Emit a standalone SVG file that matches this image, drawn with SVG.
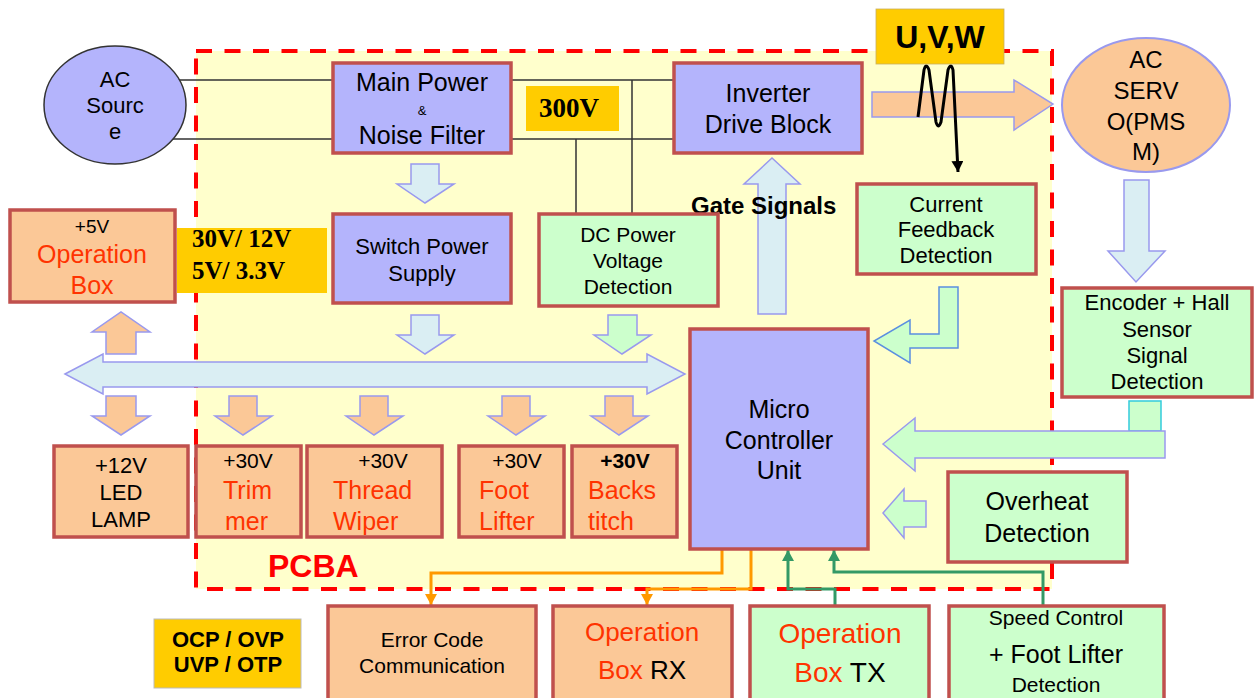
<svg xmlns="http://www.w3.org/2000/svg" width="1256" height="698" viewBox="0 0 1256 698">
<style>
text{font-family:"Liberation Sans",Arial,sans-serif;fill:#000;font-size:22px}
.c{text-anchor:middle}
.red{fill:#FF3300}
.box{stroke:#C0504D;stroke-width:3.5}
.pur{fill:#B4B4FC}
.grn{fill:#CCFFCC}
.pch{fill:#FBC897}
.gold{fill:#FFCC00}
.serif{font-family:"Liberation Serif","Times New Roman",serif;font-weight:bold}
.b{font-weight:bold}
.ba{stroke:#9999EE;stroke-width:1.5}
.lb{fill:#DAEEF3}
.wire{stroke:#333;stroke-width:1.5;fill:none}
.org{stroke:#FF9900;stroke-width:3;fill:none}
.gl{stroke:#339966;stroke-width:3;fill:none}
</style>
<defs>
<marker id="ao" markerUnits="userSpaceOnUse" markerWidth="12" markerHeight="12" refX="11" refY="6" orient="auto"><path d="M0,0 L11,6 L0,12 Z" fill="#FF9900"/></marker>
<marker id="ag" markerUnits="userSpaceOnUse" markerWidth="12" markerHeight="12" refX="11" refY="6" orient="auto"><path d="M0,0 L11,6 L0,12 Z" fill="#339966"/></marker>
<marker id="ak" markerUnits="userSpaceOnUse" markerWidth="12" markerHeight="12" refX="11" refY="6" orient="auto"><path d="M0,0 L11,6 L0,12 Z" fill="#000"/></marker>
</defs>
<rect width="1256" height="698" fill="#fff"/>
<g id="pcba">
<rect x="196" y="51" width="856" height="538" fill="#FFFFCC" stroke="#FF0000" stroke-width="4" stroke-dasharray="16 12.5"/>
<text x="268" y="577" class="b" style="font-size:32px;fill:#FF0000">PCBA</text>
</g>
<g id="connectors">
<path class="wire" d="M150,80 H333 M150,139 H333 M511,80 H674 M511,139 H674 M576,139 V214 M632,80 V214"/>
<polygon class="lb ba" points="411,164 439,164 439,184 454,184 425,203 397,184 411,184"/>
<polygon class="lb ba" points="411,315 439,315 439,335 454,335 425,354 397,335 411,335"/>
<polygon class="grn ba" points="608,315 637,315 637,335 651,335 622,354 594,335 608,335"/>
<polygon class="lb ba" points="65,374 103,354 103,362 647,362 647,354 685,374 647,394 647,387 103,387 103,394"/>
<polygon class="pch ba" points="106,354 136,354 136,332 150,332 121,312 92,332 106,332"/>
<polygon class="pch ba" points="106,396 136,396 136,416 150,416 121,435 92,416 106,416"/>
<polygon class="pch ba" points="229,396 257,396 257,416 272,416 243,435 215,416 229,416"/>
<polygon class="pch ba" points="360,396 388,396 388,416 403,416 374,435 346,416 360,416"/>
<polygon class="pch ba" points="502,396 530,396 530,416 545,416 516,435 488,416 502,416"/>
<polygon class="pch ba" points="605,396 633,396 633,416 648,416 619,435 591,416 605,416"/>
<polygon class="lb ba" points="758,314 786,314 786,184 800,184 772,158 744,184 758,184"/>
<text x="691" y="214" class="b" style="font-size:24px">Gate Signals</text>
<polygon class="pch ba" points="872,92 1014,92 1014,80 1053,104 1014,130 1014,117 872,117"/>
<path d="M918,117 L924,70 Q926,62 929,70 L936,122 Q938,130 941,122 L948,70 Q951,62 953,70 L958,172" fill="none" stroke="#000" stroke-width="3" marker-end="url(#ak)"/>
<polygon class="lb ba" points="1124,180 1149,180 1149,251 1165,251 1136,282 1108,251 1124,251"/>
<polygon class="grn" stroke="#5B8FE0" stroke-width="1.5" points="939,287 958,287 958,348 910,348 910,363 874,341 910,320 910,334 939,334"/>
<rect x="1129" y="401" width="32" height="30" class="grn" stroke="#33CCDD" stroke-width="1.5"/>
<polygon class="grn ba" points="883,444 915,418 915,431 1165,431 1165,458 915,458 915,471"/>
<polygon class="grn ba" points="883,513 904,489 904,501 926,501 926,527 904,527 904,538"/>
<path class="org" d="M722,549 V573 H431 V605" marker-end="url(#ao)"/>
<path class="org" d="M751,549 V589 H647 V605" marker-end="url(#ao)"/>
<path class="gl" d="M835,606 V589 H788 V550" marker-end="url(#ag)"/>
<path class="gl" d="M1043,606 V572 H834 V550" marker-end="url(#ag)"/>
</g>
<g id="ac-source">
<ellipse cx="115" cy="105" rx="71" ry="59" class="pur" stroke="#333" stroke-width="1.5"/>
<text x="115" y="87" class="c">AC</text>
<text x="115" y="113" class="c">Sourc</text>
<text x="115" y="139" class="c">e</text>
</g>
<g id="main-power">
<rect x="333" y="63" width="178" height="90" class="pur box"/>
<text x="422" y="91" class="c" style="font-size:25px">Main Power</text>
<text x="422" y="115" class="c" style="font-size:13px">&amp;</text>
<text x="422" y="144" class="c" style="font-size:25px">Noise Filter</text>
</g>
<g id="v300">
<rect x="526" y="86" width="93" height="45" class="gold"/>
<text x="569" y="117" class="c serif" style="font-size:27px">300V</text>
</g>
<g id="inverter">
<rect x="674" y="63" width="188" height="90" class="pur box"/>
<text x="768" y="102" class="c" style="font-size:25px">Inverter</text>
<text x="768" y="133" class="c" style="font-size:25px">Drive Block</text>
</g>
<g id="uvw">
<rect x="876" y="9" width="128" height="55" class="gold" stroke="#C8B060" stroke-width="0.8"/>
<text x="940" y="48" class="c b" style="font-size:32px">U,V,W</text>
</g>
<g id="ac-servo">
<ellipse cx="1146" cy="105" rx="84" ry="67" class="pch" stroke="#9999EE" stroke-width="2"/>
<text x="1146" y="68" class="c" style="font-size:24px">AC</text>
<text x="1146" y="99" class="c" style="font-size:24px">SERV</text>
<text x="1146" y="130" class="c" style="font-size:24px">O(PMS</text>
<text x="1146" y="160" class="c" style="font-size:24px">M)</text>
</g>
<g id="op-box-5v">
<rect x="10" y="210" width="165" height="92" class="pch box"/>
<text x="92" y="233" class="c" style="font-size:19px">+5V</text>
<text x="92" y="263" class="c red" style="font-size:25px">Operation</text>
<text x="92" y="294" class="c red" style="font-size:25px">Box</text>
</g>
<g id="v30-12">
<rect x="177" y="228" width="150" height="65" class="gold"/>
<text x="192" y="247" class="serif" style="font-size:25px">30V/ 12V</text>
<text x="192" y="279" class="serif" style="font-size:25px">5V/ 3.3V</text>
</g>
<g id="switch-power">
<rect x="333" y="214" width="178" height="89" class="pur box"/>
<text x="422" y="254" class="c">Switch Power</text>
<text x="422" y="281" class="c">Supply</text>
</g>
<g id="dc-power">
<rect x="539" y="214" width="179" height="92" class="grn box"/>
<text x="628" y="242" class="c" style="font-size:21px">DC Power</text>
<text x="628" y="268" class="c" style="font-size:21px">Voltage</text>
<text x="628" y="294" class="c" style="font-size:21px">Detection</text>
</g>
<g id="current-feedback">
<rect x="857" y="184" width="179" height="90" class="grn box"/>
<text x="946" y="212" class="c">Current</text>
<text x="946" y="237" class="c">Feedback</text>
<text x="946" y="263" class="c">Detection</text>
</g>
<g id="encoder">
<rect x="1062" y="288" width="190" height="109" class="grn box"/>
<text x="1157" y="310" class="c">Encoder + Hall</text>
<text x="1157" y="337" class="c">Sensor</text>
<text x="1157" y="363" class="c">Signal</text>
<text x="1157" y="389" class="c">Detection</text>
</g>
<g id="mcu">
<rect x="690" y="329" width="178" height="220" class="pur box"/>
<text x="779" y="418" class="c" style="font-size:25px">Micro</text>
<text x="779" y="449" class="c" style="font-size:25px">Controller</text>
<text x="779" y="479" class="c" style="font-size:25px">Unit</text>
</g>
<g id="overheat">
<rect x="948" y="472" width="179" height="90" class="grn box"/>
<text x="1037" y="510" class="c" style="font-size:25px">Overheat</text>
<text x="1037" y="542" class="c" style="font-size:25px">Detection</text>
</g>
<g id="led-lamp">
<rect x="54" y="446" width="134" height="91" class="pch box"/>
<text x="121" y="473" class="c">+12V</text>
<text x="121" y="500" class="c">LED</text>
<text x="121" y="527" class="c">LAMP</text>
</g>
<g id="trimmer">
<rect x="196" y="446" width="105" height="91" class="pch box"/>
<text x="248" y="468" class="c" style="font-size:21px">+30V</text>
<text x="223" y="499" class="red" style="font-size:25px">Trim</text>
<text x="225" y="530" class="red" style="font-size:25px">mer</text>
</g>
<g id="thread-wiper">
<rect x="307" y="446" width="135" height="91" class="pch box"/>
<text x="383" y="468" class="c" style="font-size:21px">+30V</text>
<text x="333" y="499" class="red" style="font-size:25px">Thread</text>
<text x="333" y="530" class="red" style="font-size:25px">Wiper</text>
</g>
<g id="foot-lifter">
<rect x="459" y="446" width="105" height="91" class="pch box"/>
<text x="517" y="468" class="c" style="font-size:21px">+30V</text>
<text x="479" y="499" class="red" style="font-size:25px">Foot</text>
<text x="479" y="530" class="red" style="font-size:25px">Lifter</text>
</g>
<g id="backstitch">
<rect x="572" y="446" width="105" height="91" class="pch box"/>
<text x="625" y="468" class="c b" style="font-size:21px">+30V</text>
<text x="588" y="499" class="red" style="font-size:25px">Backs</text>
<text x="588" y="530" class="red" style="font-size:25px">titch</text>
</g>
<g id="protection">
<rect x="154" y="619" width="147" height="69" class="gold" stroke="#BBBBBB" stroke-width="1"/>
<text x="228" y="647" class="c b">OCP / OVP</text>
<text x="228" y="672" class="c b">UVP / OTP</text>
</g>
<g id="error-code">
<rect x="328" y="606" width="208" height="100" class="pch box"/>
<text x="432" y="647" class="c" style="font-size:21px">Error Code</text>
<text x="432" y="673" class="c" style="font-size:21px">Communication</text>
</g>
<g id="op-box-rx">
<rect x="553" y="606" width="179" height="100" class="pch box"/>
<text x="642" y="641" class="c red" style="font-size:26px">Operation</text>
<text x="642" y="679" class="c" style="font-size:26px"><tspan class="red">Box</tspan> RX</text>
</g>
<g id="op-box-tx">
<rect x="750" y="606" width="179" height="100" class="grn box"/>
<text x="840" y="643" class="c red" style="font-size:28px">Operation</text>
<text x="840" y="682" class="c" style="font-size:28px"><tspan class="red">Box</tspan> TX</text>
</g>
<g id="speed-control">
<rect x="949" y="606" width="215" height="100" class="grn box"/>
<text x="1056" y="625" class="c" style="font-size:21px">Speed Control</text>
<text x="1056" y="663" class="c" style="font-size:25px">+ Foot Lifter</text>
<text x="1056" y="692" class="c" style="font-size:21px">Detection</text>
</g>
</svg>
